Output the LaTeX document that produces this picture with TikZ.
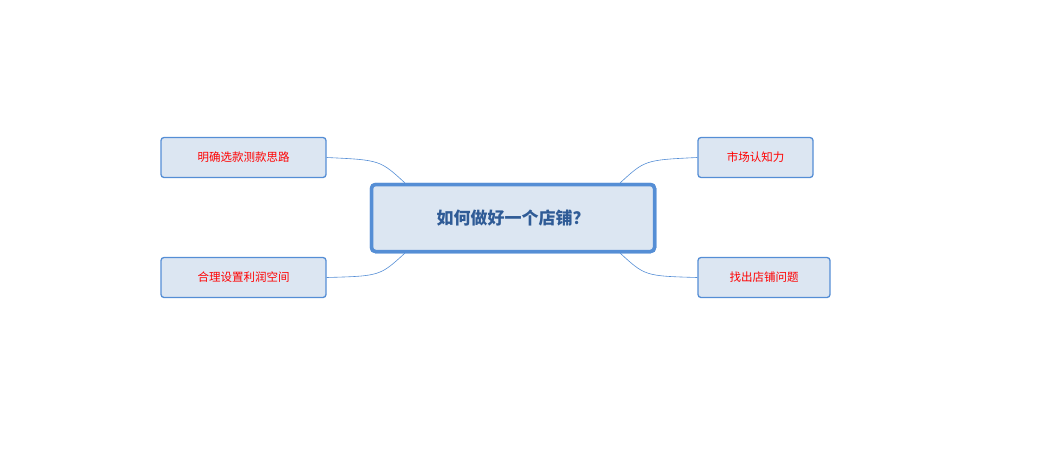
\documentclass[tikz,border=0pt]{standalone}
\usepackage{fontspec}
\newfontfamily\cjk{Noto Sans CJK SC}
\definecolor{boxfill}{HTML}{DCE6F2}
\definecolor{boxline}{HTML}{558ED5}
\definecolor{roottext}{HTML}{2F5B96}
\tikzset{
  rootbox/.style={draw=boxline, line width=3.5pt, fill=boxfill, rounded corners=4pt,
    minimum width=283pt, minimum height=67pt, font=\cjk\fontsize{17}{20}\selectfont\bfseries, text=roottext},
  leafbox/.style={draw=boxline, line width=1.3pt, fill=boxfill, rounded corners=3pt,
    minimum height=40pt, inner xsep=8pt, font=\cjk\fontsize{11.5}{14}\selectfont, text=red},
  link/.style={draw=boxline, line width=0.6pt}
}
\begin{document}
\begin{tikzpicture}[x=1pt,y=-1pt]
\useasboundingbox (0,0) rectangle (1062,456);
\node[rootbox] (root) at (513,218) {如何做好一个店铺？};
\node[leafbox, minimum width=165pt] (l1) at (243.5,157.5) {明确选款测款思路};
\node[leafbox, minimum width=165pt] (l2) at (243.5,277.5) {合理设置利润空间};
\node[leafbox, minimum width=115pt] (r1) at (755.5,157.5) {市场认知力};
\node[leafbox, minimum width=132pt] (r2) at (764,277.5) {找出店铺问题};
\coordinate (a1) at (405,183);
\coordinate (a2) at (405,253);
\coordinate (b1) at (620,183);
\coordinate (b2) at (620,253);
\begin{scope}[on background layer/.try]
\draw[link] (a1) .. controls (380,160) .. (l1.east);
\draw[link] (a2) .. controls (380,276) .. (l2.east);
\draw[link] (b1) .. controls (645,160) .. (r1.west);
\draw[link] (b2) .. controls (645,276) .. (r2.west);
\end{scope}
\node[rootbox] at (root) {如何做好一个店铺？};
\end{tikzpicture}
\end{document}
